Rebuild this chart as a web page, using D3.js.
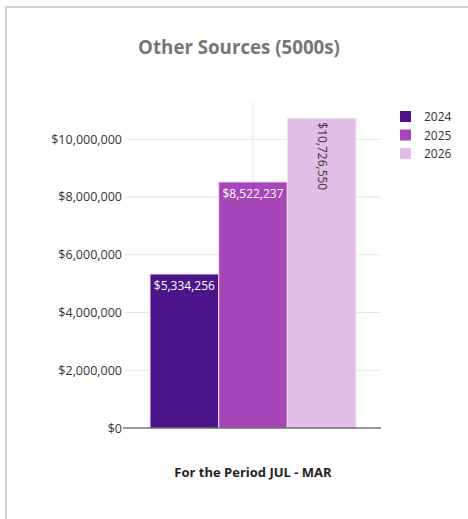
<!DOCTYPE html>
<html>
<head>
<meta charset="utf-8">
<script src="https://cdn.jsdelivr.net/npm/d3@7"></script>
<style>
  body { margin: 0; background: #fff; }
  text { font-family: "Open Sans", "Noto Sans", sans-serif; }
</style>
</head>
<body>
<svg id="chart" width="468" height="519"></svg>
<script>
const years = ["2024", "2025", "2026"];
const values = [5334256, 8522237, 10726550];
const colors = ["#4b148a", "#a845b8", "#e0bee6"];
const labelColors = ["#ffffff", "#ffffff", "#333333"];
const yTicks = [0, 2000000, 4000000, 6000000, 8000000, 10000000];
const category = "For the Period JUL - MAR";

const svg = d3.select("#chart");

// card border
svg.append("rect")
    .attr("x", 6).attr("y", 7)
    .attr("width", 480).attr("height", 540)
    .attr("fill", "none")
    .attr("stroke", "#d2d2d2")
    .attr("stroke-width", 2);

svg.append("text")
    .attr("x", 239).attr("y", 54)
    .attr("text-anchor", "middle")
    .attr("font-size", 18.7)
    .attr("font-weight", "bold")
    .attr("fill", "#777")
    .text("Other Sources (5000s)");

const plot = {left: 125, right: 381, top: 102, bottom: 428};

const y = d3.scaleLinear().domain([0, 11290000]).range([plot.bottom, plot.top]);
const x = d3.scaleBand().domain(years).range([150, 356]);

const fmt = d3.format("$,.0f");

// horizontal grid
svg.append("g")
    .selectAll("line")
    .data(yTicks.filter(d => d > 0))
    .join("line")
    .attr("x1", plot.left).attr("x2", plot.right)
    .attr("y1", d => y(d)).attr("y2", d => y(d))
    .attr("stroke", "#e6e6e6");

// vertical category grid line
const cx = (x.range()[0] + x.range()[1]) / 2;
svg.append("line")
    .attr("x1", cx).attr("x2", cx)
    .attr("y1", plot.top).attr("y2", plot.bottom)
    .attr("stroke", "#e6e6e6");

// y axis labels
const yAxis = svg.append("g")
    .attr("transform", `translate(${plot.left},0)`)
    .call(d3.axisLeft(y).tickValues(yTicks).tickFormat(fmt).tickSize(0).tickPadding(3));
yAxis.select(".domain").remove();
yAxis.selectAll("text")
    .attr("font-size", 12.5)
    .attr("fill", "#333")
    .style("font-family", "'Open Sans', sans-serif");

// bars
svg.append("g")
    .selectAll("rect")
    .data(values)
    .join("rect")
    .attr("x", (d, i) => x(years[i]))
    .attr("y", d => y(d))
    .attr("width", x.bandwidth())
    .attr("height", d => y(0) - y(d))
    .attr("fill", (d, i) => colors[i])
    .attr("stroke", "#f3e6f5")
    .attr("stroke-width", 1);

// zero line
svg.append("line")
    .attr("x1", 123).attr("x2", plot.right)
    .attr("y1", y(0)).attr("y2", y(0))
    .attr("stroke", "#333");

// value labels
values.forEach((v, i) => {
    const bx = x(years[i]) + x.bandwidth() / 2;
    if (i < 2) {
        svg.append("text")
            .attr("x", bx).attr("y", y(v) + 16)
            .attr("text-anchor", "middle")
            .attr("font-size", 12)
            .attr("fill", labelColors[i])
            .text(fmt(v));
    } else {
        svg.append("text")
            .attr("transform", `translate(${bx - 4},${y(v) + 4}) rotate(90)`)
            .attr("text-anchor", "start")
            .attr("font-size", 12)
            .attr("fill", labelColors[i])
            .text(fmt(v));
    }
});

// x axis title
svg.append("text")
    .attr("x", cx).attr("y", 477)
    .attr("text-anchor", "middle")
    .attr("font-size", 13)
    .attr("font-weight", "bold")
    .attr("fill", "#222")
    .text(category);

// legend
const legend = svg.append("g")
    .selectAll("g")
    .data(years)
    .join("g")
    .attr("transform", (d, i) => `translate(400,${111 + i * 18.5})`);
legend.append("rect")
    .attr("width", 11).attr("height", 11)
    .attr("fill", (d, i) => colors[i]);
legend.append("text")
    .attr("x", 24).attr("y", 10)
    .attr("font-size", 12)
    .attr("fill", "#333")
    .text(d => d);
</script>
</body>
</html>
